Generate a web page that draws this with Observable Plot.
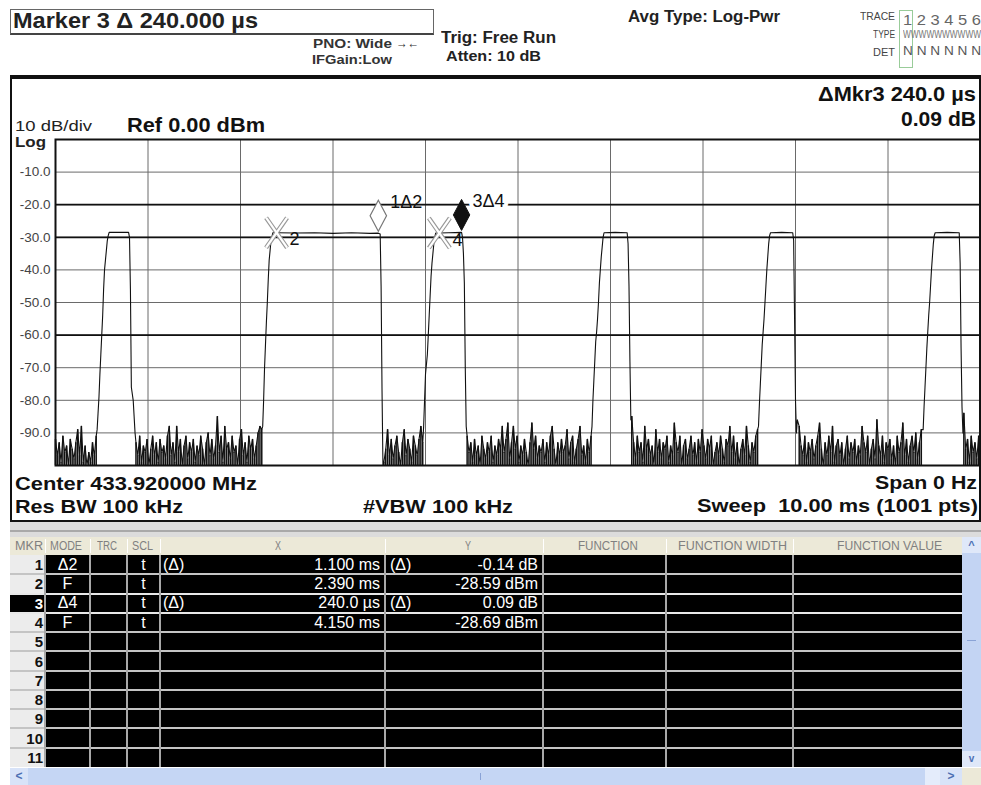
<!DOCTYPE html>
<html><head><meta charset="utf-8">
<script src="https://cdn.jsdelivr.net/npm/d3@7"></script>
<script src="https://cdn.jsdelivr.net/npm/@observablehq/plot@0.6"></script>
<style>
html,body{margin:0;padding:0;background:#fff;}
#page{position:relative;width:981px;height:785px;overflow:hidden;font-family:"Liberation Sans",Arial,sans-serif;background:#fff;}
.t{position:absolute;white-space:pre;transform-origin:0 50%;line-height:0.75;}
.b{position:absolute;box-sizing:border-box;}
#chart{position:absolute;left:0;top:125px;}
</style></head>
<body><div id="page"><div id="chart"></div></div>
<script>
// ---------- data ----------
const sweepMs = [0, 10];
const dbRange = [-100, 0];
const yTickDb = [-10, -20, -30, -40, -50, -60, -70, -80, -90];
const xGridMs = [1, 2, 3, 4, 5, 6, 7, 8, 9];
const boldGridDb = [-20, -30, -60];

const sampleMs = 0.02;
const noiseStart = [0.00, 0.87, 3.55, 4.45, 6.23, 8.04, 9.82];
const noise0 = [-92,-97,-93,-99,-91,-96,-94,-100,-92,-95,-98,-93,-89,-97,-88,-99,-94,-100,-96,-99,-93,-97,-91];
const noise1 = [-93,-97,-91,-99,-94,-96,-92,-100,-95,-91,
  -97,-93,-99,-92,-96,-94,-98,-91,-88,-97,
  -93,-99,-88,-96,-92,-100,-94,-91,-98,-93,
  -96,-92,-99,-94,-97,-91,-95,-100,-93,-90,
  -97,-92,-98,-94,-85,-96,-91,-99,-88,-95,
  -93,-98,-91,-96,-94,-100,-92,-89,-97,-93,
  -99,-91,-95,-92,-98,-94,-90,-88,-89];
const noise2 = [-99,-95,-89,-97,-92,-98,-94,-91,-96,-100,-93,-89,-97,-92,-95,-99,-91,-94,-97,-92,-88,-93];
const noise3 = [-91,-96,-93,-99,-92,-97,-94,-100,-91,-95,
  -98,-93,-96,-91,-99,-94,-97,-92,-95,-88,
  -96,-92,-87,-98,-93,-88,-95,-91,-99,-94,
  -97,-92,-96,-100,-93,-87,-95,-91,-98,-94,
  -96,-92,-99,-93,-97,-91,-88,-95,-100,-93,
  -97,-92,-96,-94,-89,-98,-93,-91,-99,-95,
  -92,-88,-97,-94,-99,-92,-96,-91];
const noise4 = [-85,-93,-98,-91,-96,-93,-99,-88,-95,-92,
  -97,-94,-100,-89,-96,-92,-98,-93,-95,-91,
  -99,-94,-97,-87,-93,-96,-91,-100,-94,-92,
  -98,-95,-91,-97,-93,-99,-92,-96,-89,-94,
  -98,-92,-95,-91,-100,-96,-93,-97,-91,-95,
  -99,-92,-94,-88,-96,-91,-98,-93,-100,-95,
  -92,-97,-88,-94,-99,-93,-96,-91,-89];
const noise5 = [-88,-94,-97,-91,-99,-93,-96,-92,-98,-94,
  -91,-87,-95,-100,-93,-97,-91,-96,-88,-99,
  -94,-92,-97,-93,-100,-95,-91,-98,-93,-96,
  -92,-99,-94,-97,-88,-93,-96,-91,-100,-95,
  -92,-98,-86,-94,-97,-91,-99,-93,-95,-92,
  -98,-94,-100,-91,-96,-93,-87,-97,-92,-99,
  -94,-91,-96,-90,-98,-93,-89];
const noise6 = [-84,-95,-92,-99,-91,-96,-93,-98,-91,-94];

const pulse1 = [[0.45,-89],[0.46,-84],[0.47,-79],[0.48,-72],[0.49,-66],[0.50,-60],[0.51,-54],[0.52,-46],[0.53,-40],[0.54,-37],[0.55,-34],[0.56,-31],[0.57,-29.5],[0.58,-28.5],[0.69,-28.5],[0.79,-28.5],[0.80,-30],[0.81,-46],[0.82,-76],[0.84,-80],[0.86,-90]];
const pulse2 = [[2.24,-88],[2.25,-80],[2.26,-70],[2.27,-63],[2.28,-56],[2.29,-50],[2.30,-43],[2.31,-37],[2.32,-34],[2.33,-31],[2.35,-28.6],[2.39,-28.59],[2.60,-28.7],[2.80,-28.6],[3.00,-28.8],[3.20,-28.6],[3.40,-28.8],[3.49,-28.73],[3.51,-29],[3.52,-45],[3.53,-77],[3.54,-100]];
const pulse3 = [[3.98,-88],[3.99,-80],[4.00,-72],[4.02,-66],[4.03,-60],[4.04,-54],[4.05,-48],[4.06,-42],[4.07,-38],[4.08,-35],[4.09,-32],[4.10,-30],[4.11,-28.7],[4.15,-28.69],[4.25,-28.6],[4.39,-28.5],[4.40,-30],[4.41,-35],[4.42,-44],[4.43,-70],[4.44,-88]];
const pulse4 = [[5.80,-88],[5.81,-80],[5.82,-74],[5.83,-68],[5.84,-62],[5.85,-59],[5.86,-55],[5.87,-50],[5.88,-44],[5.89,-40],[5.90,-36],[5.91,-33],[5.92,-30],[5.93,-28.6],[6.05,-28.5],[6.18,-28.6],[6.19,-32],[6.20,-45],[6.21,-68],[6.22,-86]];
const pulse5 = [[7.60,-88],[7.61,-81],[7.62,-75],[7.63,-69],[7.64,-63],[7.65,-59],[7.66,-55],[7.67,-50],[7.68,-45],[7.69,-40],[7.70,-36],[7.71,-32],[7.72,-29.5],[7.73,-28.6],[7.85,-28.5],[7.97,-28.6],[7.98,-31],[7.99,-55],[8.00,-80],[8.01,-90],[8.02,-86]];
const pulse6 = [[9.38,-89],[9.39,-82],[9.40,-76],[9.41,-70],[9.42,-64],[9.43,-59],[9.44,-54],[9.45,-50],[9.46,-45],[9.47,-40],[9.48,-36],[9.49,-32],[9.50,-29.5],[9.51,-28.6],[9.64,-28.5],[9.77,-28.6],[9.78,-38],[9.79,-64],[9.80,-82],[9.81,-90]];

const markerNum  = [1, 2, 3, 4];
const markerMode = ["Δ2", "F", "Δ4", "F"];
const markerMs   = [3.49, 2.39, 4.39, 4.15];
const markerDb   = [-28.73, -28.59, -28.50, -28.69];
const markerXText = ["1.100 ms", "2.390 ms", "240.0 µs", "4.150 ms"];
const markerYText = ["-0.14 dB", "-28.59 dBm", "0.09 dB", "-28.69 dBm"];
const activeMarker = 3;
const tableRows = 11;
const tableHeaders = ["MKR","MODE","TRC","SCL","X","Y","FUNCTION","FUNCTION WIDTH","FUNCTION VALUE"];

// ---------- build trace ----------
const noiseArrays = [noise0, noise1, noise2, noise3, noise4, noise5, noise6];
const pulseArrays = [pulse1, pulse2, pulse3, pulse4, pulse5, pulse6];
const trace = [], noisePts = [];
noiseArrays.forEach((arr, k) => {
  arr.forEach((db, i) => { const p = {t: noiseStart[k] + i * sampleMs, db}; trace.push(p); noisePts.push(p); });
  if (k < pulseArrays.length) pulseArrays[k].forEach(([t, db]) => trace.push({t, db}));
});
const markers = markerNum.map((n, i) => ({n, mode: markerMode[i], t: markerMs[i], db: markerDb[i]}));
const refMarkers = markers.filter(m => m.mode === "F");
const deltaMarkers = markers.filter(m => m.mode !== "F" && m.n !== activeMarker);
const actMarkers = markers.filter(m => m.n === activeMarker);

const tallX = {draw(ctx, size) {
  const r = Math.sqrt(size / Math.PI), w = r * 0.7;
  ctx.moveTo(-w, -r); ctx.lineTo(w, r); ctx.moveTo(w, -r); ctx.lineTo(-w, r);
}};
const tipDiamond = {draw(ctx, size) {
  const r = Math.sqrt(size / Math.PI), w = r * 0.53;
  ctx.moveTo(0, 0); ctx.lineTo(w, -r); ctx.lineTo(0, -2 * r); ctx.lineTo(-w, -r); ctx.closePath();
}};

const chart = Plot.plot({
  width: 981, height: 350,
  marginLeft: 55, marginRight: 1, marginTop: 14, marginBottom: 10,
  x: {domain: sweepMs, axis: null},
  y: {domain: dbRange},
  style: {fontFamily: "Liberation Sans, Arial, sans-serif", fontSize: "13.5px", background: "transparent", overflow: "visible"},
  marks: [
    Plot.ruleX(xGridMs, {stroke: "#6a6a6a", strokeWidth: 1}),
    Plot.ruleY(yTickDb, {stroke: "#6a6a6a", strokeWidth: 1}),
    Plot.ruleY(boldGridDb, {stroke: "#111", strokeWidth: 1.7}),
    Plot.ruleX(noisePts, {x: "t", y1: () => dbRange[0], y2: "db", stroke: "#111", strokeWidth: 1.5}),
    Plot.line(trace, {x: "t", y: "db", stroke: "#111", strokeWidth: 1.1, clip: true}),
    Plot.dot(refMarkers, {x: "t", y: "db", symbol: tallX, r: 15, fill: "none", stroke: "#999", strokeWidth: 4.5}),
    Plot.dot(refMarkers, {x: "t", y: "db", symbol: tallX, r: 15, fill: "none", stroke: "#fff", strokeWidth: 2.2}),
    Plot.dot(deltaMarkers, {x: "t", y: "db", symbol: tipDiamond, r: 15.5, fill: "#fff", stroke: "#777", strokeWidth: 1.2, dy: -2}),
    Plot.dot(actMarkers, {x: "t", y: "db", symbol: tipDiamond, r: 15.5, fill: "#111", stroke: "#111", strokeWidth: 1, dy: -2}),
    Plot.text(deltaMarkers, {x: "t", y: "db", text: m => m.n + m.mode, dx: 12, dy: -31, textAnchor: "start", fontSize: 18, fill: "#111"}),
    Plot.text(actMarkers, {x: "t", y: "db", text: m => m.n + m.mode, dx: 11, dy: -31, textAnchor: "start", fontSize: 18, fill: "#111", stroke: "#fff", strokeWidth: 8}),
    Plot.text(refMarkers, {x: "t", y: "db", text: m => String(m.n), dx: 13, dy: 7, textAnchor: "start", fontSize: 18, fill: "#111"}),
    Plot.frame({stroke: "#111", strokeWidth: 2}),
    Plot.axisY(yTickDb, {tickSize: 0, tickPadding: 5, tickFormat: d => d.toFixed(1), label: null, fill: "#444"})
  ]
});
document.getElementById("chart").appendChild(chart);

// ---------- page furniture ----------
const page = document.getElementById("page");
const LH = 0.75, CAPC = LH / 2 - 0.0115;
function box(x, y, w, h, bg, extra) {
  const d = document.createElement("div");
  d.className = "b";
  Object.assign(d.style, {left: x + "px", top: y + "px", width: w + "px", height: h + "px", background: bg}, extra || {});
  page.appendChild(d); return d;
}
function fit(s, x1, x2, cy, cap, weight, color) {
  const el = document.createElement("span");
  el.className = "t"; el.textContent = s;
  const size = cap / 0.716;
  Object.assign(el.style, {fontSize: size + "px", fontWeight: weight, color: color || "#111", left: x1 + "px", top: (cy - CAPC * size) + "px"});
  page.appendChild(el);
  const w = el.getBoundingClientRect().width;
  el.style.transform = `scaleX(${(x2 - x1) / w})`;
  return el;
}
function cell(s, x, cy, size, color, align, weight) {
  const el = document.createElement("span");
  el.className = "t"; el.textContent = s;
  Object.assign(el.style, {fontSize: size + "px", fontWeight: weight || 400, color, top: (cy - CAPC * size) + "px", left: "0px"});
  page.appendChild(el);
  const w = el.getBoundingClientRect().width;
  el.style.left = (align === "right" ? x - w : align === "center" ? x - w / 2 : x) + "px";
  return el;
}

// header
box(10, 9, 424, 26, "transparent", {border: "1px solid #666", borderBottom: "2px solid #444"});
fit("Marker 3 Δ 240.000 µs", 13, 258, 21.5, 16, 700, "#222");
fit("PNO: Wide", 313, 392, 43.5, 9.5, 700, "#333");
fit("→←", 396, 419, 43, 11, 700, "#333");
fit("IFGain:Low", 312, 392, 59.5, 9.5, 700, "#333");
fit("Trig: Free Run", 441, 556, 38, 12, 700, "#222");
fit("Atten: 10 dB", 446, 541, 56, 11, 700, "#222");
fit("Avg Type: Log-Pwr", 628, 780, 17.5, 12, 700, "#222");
box(899, 10, 14, 58, "transparent", {border: "1px solid #9c9"});
fit("TRACE", 860, 895, 16, 8, 400, "#444");
fit("1 2 3 4 5 6", 903, 981, 20, 10, 400, "#666");
fit("TYPE", 873, 895, 34, 8, 400, "#444");
fit("WWWWWWWWWW", 903, 981, 34, 8, 400, "#777");
fit("DET", 873, 895, 52, 8, 400, "#444");
fit("N N N N N N", 903, 981, 52, 9, 400, "#555");

// panel border
box(10, 75, 971, 4, "#111");
box(10, 75, 2, 447, "#111");
box(10, 520, 971, 2, "#111");
box(979, 75, 2, 447, "#111");

fit("ΔMkr3 240.0 µs", 818, 976, 94, 15, 700, "#111");
fit("0.09 dB", 901, 976, 119, 15, 700, "#111");
fit("10 dB/div", 15, 92, 126.5, 10.5, 400, "#222");
fit("Ref 0.00 dBm", 127, 265, 125, 14, 700, "#111");
fit("Log", 15, 46, 142, 10.5, 700, "#222");

fit("Center 433.920000 MHz", 15, 257, 483.3, 13.3, 700, "#111");
fit("Span 0 Hz", 875, 977, 482.5, 13.3, 700, "#111");
fit("Res BW 100 kHz", 15, 183, 506.7, 13.3, 700, "#111");
fit("#VBW 100 kHz", 363, 513, 506.7, 13.3, 700, "#111");
fit("Sweep  10.00 ms (1001 pts)", 697, 978, 505.5, 13.3, 700, "#111");

// ---------- marker table ----------
const colEdges = [10, 45, 90, 127, 160, 385, 543, 666, 793, 962];
const hdrTop = 537, rowTop0 = 555, rowH = 19.27;
box(10, 522, 971, 15, "#dcdcdc");
box(10, 530, 971, 2, "#a9a9a9");
box(10, hdrTop, 952, rowTop0 - hdrTop, "#ece9d8");
const hdrSpans = [[15,43],[50,82],[97,117],[132,153],[275,281],[465,471],[578,638],[678,787],[837,942]];
tableHeaders.forEach((h, i) => fit(h, hdrSpans[i][0], hdrSpans[i][1], 546.5, 8.5, 400, "#808080"));
colEdges.slice(1, -1).forEach(x => box(x, hdrTop + 2, 1, rowTop0 - hdrTop - 4, "#fff"));
box(45, rowTop0, 917, rowH * tableRows, "#000");
box(10, rowTop0, 35, rowH * tableRows, "#ececec");
box(10, rowTop0 + rowH * (activeMarker - 1), 35, rowH, "#000");
for (let i = 1; i < tableRows; i++) box(10, rowTop0 + rowH * i - 1, 952, 2, (i === 2 || i === 3) ? "#e8e8e8" : "#c4c4c4");
colEdges.slice(1, -1).forEach(x => box(x - 1, rowTop0, 2, rowH * tableRows, "#a8a8a8"));
for (let i = 0; i < tableRows; i++) {
  const cy = rowTop0 + rowH * i + rowH / 2;
  cell(String(i + 1), 43, cy, 15, i + 1 === activeMarker ? "#fff" : "#111", "right", 700);
}
markers.forEach((m, i) => {
  const cy = rowTop0 + rowH * i + rowH / 2;
  const isDelta = m.mode !== "F";
  cell(m.mode, 67.5, cy, 16, "#fff", "center");
  cell("t", 143.5, cy, 16, "#fff", "center");
  if (isDelta) cell("(Δ)", 163, cy, 16, "#fff", "left");
  cell(markerXText[i], 380, cy, 16, "#fff", "right");
  if (isDelta) cell("(Δ)", 390, cy, 16, "#fff", "left");
  cell(markerYText[i], 538, cy, 16, "#fff", "right");
});
// scrollbars
const sbTop = hdrTop, sbBottom = rowTop0 + rowH * tableRows;
box(962, sbTop, 19, sbBottom - sbTop, "#c3d4f3");
box(962, sbTop, 19, 16, "#dfe8f9");
box(962, sbBottom - 16, 19, 16, "#dfe8f9");
cell("^", 971.5, sbTop + 8, 11, "#4d6fb3", "center", 700);
cell("v", 971.5, sbBottom - 8, 10, "#4d6fb3", "center", 700);
box(967, 640, 9, 1, "#8aa3d6");
box(10, sbBottom + 1, 952, 17, "#c5d6f4");
box(925, sbBottom + 1, 15, 17, "#e4ecfb");
box(940, sbBottom + 1, 22, 17, "#d8e3f8");
box(10, sbBottom + 1, 18, 17, "#d8e3f8");
box(962, sbBottom + 1, 19, 17, "#ece9d8");
cell("<", 19, sbBottom + 9.5, 12, "#4d6fb3", "center", 700);
cell(">", 951, sbBottom + 9.5, 12, "#4d6fb3", "center", 700);
box(480, sbBottom + 6, 1, 7, "#8aa3d6");
</script></body></html>
